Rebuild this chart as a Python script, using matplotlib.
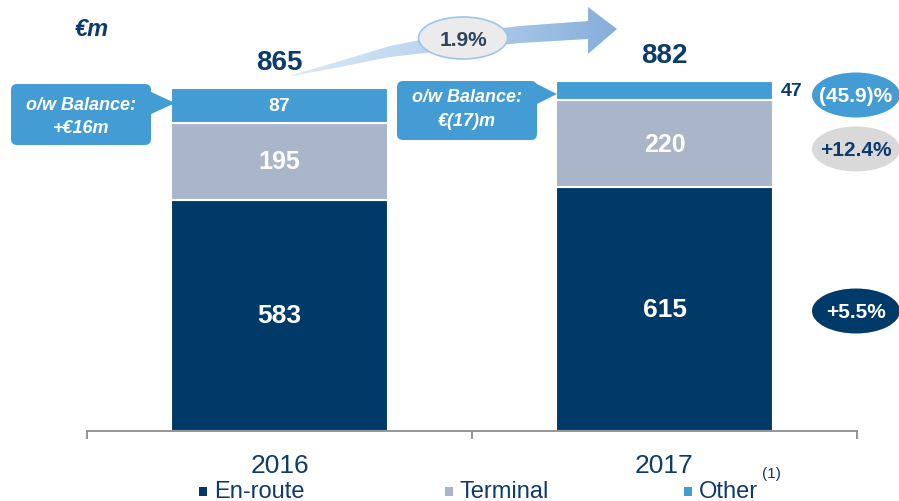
import numpy as np
import matplotlib
matplotlib.use("Agg")
import matplotlib.pyplot as plt
from matplotlib.patches import Ellipse, FancyBboxPatch, Polygon, Rectangle
from matplotlib.colors import LinearSegmentedColormap

plt.rcParams["font.family"] = ["Liberation Sans", "DejaVu Sans"]

years = ["2016", "2017"]
en_route = [583, 615]
terminal = [195, 220]
other = [87, 47]
totals = [865, 882]
growth = ["+5.5%", "+12.4%", "(45.9)%"]
cagr = "1.9%"
balance_notes = ["o/w Balance:\n+€16m", "o/w Balance:\n€(17)m"]

NAVY = "#003A68"
GREY = "#A9B6C9"
BLUE = "#439CD4"
TEXT = "#0C3B6C"

W, H = 899, 502
fig = plt.figure(figsize=(W / 100, H / 100), dpi=100)

# bar axes: y=0 at pixel 432, top of axes at pixel 0
ax = fig.add_axes([87 / W, (H - 432) / H, (857 - 87) / W, 432 / H])
ymax = 432 / 0.3965
x = np.arange(len(years))
bw = 0.566
bottom2 = np.array(en_route) + np.array(terminal)
ax.bar(x, en_route, bw, color=NAVY, edgecolor="white", linewidth=1.5)
ax.bar(x, terminal, bw, bottom=en_route, color=GREY, edgecolor="white", linewidth=1.5)
ax.bar(x, other, bw, bottom=bottom2, color=BLUE, edgecolor="white", linewidth=1.5)
ax.set_xlim(-0.5, 1.5)
ax.set_ylim(0, ymax)

for i in range(len(years)):
    ax.text(i, en_route[i] / 2, str(en_route[i]), ha="center", va="center",
            color="white", fontsize=19, fontweight="bold")
    ax.text(i, en_route[i] + terminal[i] / 2, str(terminal[i]), ha="center",
            va="center", color="white", fontsize=18, fontweight="bold")
    ax.annotate(str(totals[i]), (i, totals[i]), xytext=(0, 26),
                textcoords="offset pixels", ha="center", va="center",
                color=TEXT, fontsize=20, fontweight="bold")
ax.text(0, bottom2[0] + other[0] / 2, str(other[0]), ha="center", va="center",
        color="white", fontsize=14, fontweight="bold")
ax.annotate(str(other[1]), (1 + bw / 2, bottom2[1] + other[1] / 2), xytext=(18, 0),
            textcoords="offset pixels", ha="center", va="center",
            color=TEXT, fontsize=14, fontweight="bold")

for s in ["top", "left", "right"]:
    ax.spines[s].set_visible(False)
ax.spines["bottom"].set_color("#8C8C8C")
ax.spines["bottom"].set_linewidth(1.3)
ax.set_yticks([])
ax.set_xticks(x)
ax.set_xticklabels(years, fontsize=19, color=TEXT)
ax.tick_params(axis="x", which="major", length=0, pad=16)
ax.set_xticks([-0.5, 0.5, 1.5], minor=True)
ax.tick_params(axis="x", which="minor", length=6, width=1.3, color="#8C8C8C")
ax.patch.set_alpha(0)

# overlay in pixel coordinates for callouts and badges
ov = fig.add_axes([0, 0, 1, 1], zorder=5)
ov.set_xlim(0, W)
ov.set_ylim(H, 0)
ov.axis("off")
ov.patch.set_alpha(0)

ov.text(92, 30, "€m", color=TEXT, fontsize=17, fontweight="bold",
        fontstyle="italic", ha="center", va="center")

# growth arrow between the totals
arrow_pts = [(292, 77), (340, 68), (390, 58), (450, 51), (520, 44), (588, 40),
             (588, 55), (617, 30), (588, 8), (588, 22), (520, 27), (450, 35),
             (390, 47), (340, 62), (292, 76)]
arrow = Polygon(arrow_pts, closed=True, facecolor="none", edgecolor="none")
ov.add_patch(arrow)
cmap = LinearSegmentedColormap.from_list("arr", ["#DCEAF8", "#B5D0EE", "#86AEDA"])
img = ov.imshow(np.linspace(0, 1, 256).reshape(1, -1), cmap=cmap,
                extent=(292, 617, 80, 5), aspect="auto", zorder=2)
img.set_clip_path(arrow)
ov.set_xlim(0, W)
ov.set_ylim(H, 0)

ov.add_patch(Ellipse((463, 39), 89, 42, facecolor="#EBEBEB",
                     edgecolor="#9CC6EA", linewidth=1.2, zorder=3))
ov.text(463, 40, cagr, ha="center", va="center", color="#2C4560",
        fontsize=15, fontweight="bold", zorder=4)

# balance callouts
boxes = [(11, 85, 140, 61, [(149, 92), (175, 104), (149, 116)], 81, 105),
         (397, 82, 140, 59, [(535, 84), (557, 95), (535, 106)], 467, 98)]
for (bx, by, bwid, bht, ptr, tx, ty), note in zip(boxes, balance_notes):
    ov.add_patch(FancyBboxPatch((bx + 6, by + 6), bwid - 12, bht - 12,
                                boxstyle="round,pad=6", facecolor=BLUE,
                                edgecolor="none", zorder=3))
    ov.add_patch(Polygon(ptr, closed=True, facecolor=BLUE, edgecolor="none", zorder=3))
    l1, l2 = note.split("\n")
    ov.text(tx, ty, l1, ha="center", va="center", color="white", fontsize=13,
            fontweight="bold", fontstyle="italic", zorder=4)
    ov.text(tx, ty + 24, l2, ha="center", va="center", color="white", fontsize=13,
            fontweight="bold", fontstyle="italic", zorder=4)

# growth badges on the right
badges = [(312, NAVY, "white"), (150, "#D9D9D9", TEXT), (96, BLUE, "white")]
for (cy, fc, tc), lab in zip(badges, growth):
    ov.add_patch(Ellipse((856, cy), 88, 45, facecolor=fc, edgecolor="none", zorder=3))
    ov.text(856, cy + 1, lab, ha="center", va="center", color=tc, fontsize=15,
            fontweight="bold", zorder=4)

# legend
legend_items = [("En-route", NAVY, 199), ("Terminal", GREY, 445), ("Other", BLUE, 684)]
for lab, col, lx in legend_items:
    ov.add_patch(Rectangle((lx, 488), 8, 9, facecolor=col, edgecolor="none"))
    ov.text(lx + 15, 492, lab, ha="left", va="center", color=TEXT, fontsize=17)
ov.text(762, 474, "(1)", ha="left", va="center", color=TEXT, fontsize=11)

fig.savefig("out.png", dpi=100)
